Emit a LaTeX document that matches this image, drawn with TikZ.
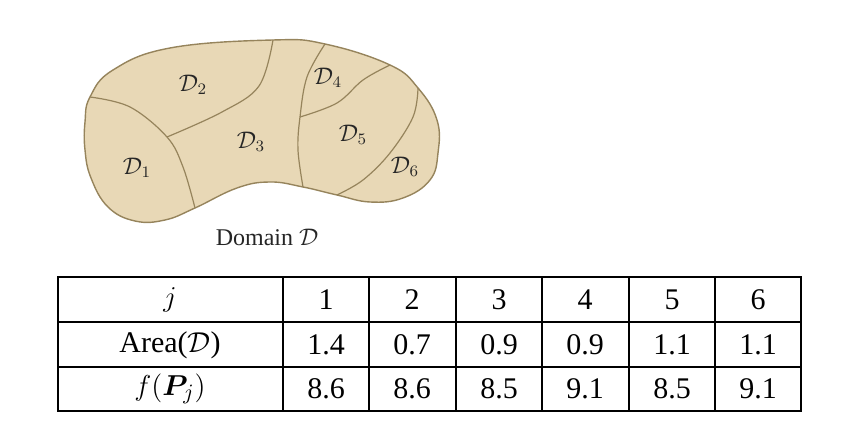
\documentclass[tikz,border=0pt]{standalone}
\usepackage{amsmath,amssymb,bm}
\usepackage{fontspec}
\setmainfont{Liberation Serif}
\usetikzlibrary{positioning}
\definecolor{blobFill}{RGB}{232,216,182}
\definecolor{blobEdge}{RGB}{150,132,92}
\tikzstyle{regionLine} = [draw=blobEdge, line width=0.6pt]
\tikzstyle{regionLabel} = [font=\fontsize{12}{14}\selectfont, text=black!85]
\tikzstyle{cellNode} = [font=\fontsize{15}{17}\selectfont, inner sep=0pt]
\tikzstyle{tableLine} = [draw=black, line width=0.9pt]

\begin{document}
\begin{tikzpicture}[x=0.5pt, y=-0.5pt]
    \useasboundingbox (0,0) rectangle (846,442);

    % domain outline
    \path [regionLine, fill=blobFill, line width=0.7pt] plot[smooth cycle, tension=0.7] coordinates {
        (85,122) (90,97) (113,70) (170,48) (273,40) (325,44) (390,65) (418,88)
        (437,120) (438,153) (430,180) (403,198) (370,202) (337,195) (303,187)
        (270,182) (237,188) (195,208) (165,220) (135,221) (108,207) (91,178) (85,150)};

    % subdivision curves
    \draw [regionLine] plot[smooth, tension=0.6] coordinates {(90,97) (130,107) (167,137) (183,167) (195,208)};
    \draw [regionLine] plot[smooth, tension=0.6] coordinates {(167,137) (222,112) (259,86) (273,40)};
    \draw [regionLine] plot[smooth, tension=0.6] coordinates {(325,44) (307,77) (300,117) (298,150) (303,187)};
    \draw [regionLine] plot[smooth, tension=0.6] coordinates {(300,117) (337,103) (363,80) (390,65)};
    \draw [regionLine] plot[smooth, tension=0.6] coordinates {(418,88) (413,117) (390,153) (363,180) (337,195)};

    % region labels
    \node (d1) [regionLabel] at (137,168) {$\mathcal{D}_1$};
    \node (d2) [regionLabel] at (193,85) {$\mathcal{D}_2$};
    \node (d3) [regionLabel] at (251,142) {$\mathcal{D}_3$};
    \node (d4) [regionLabel] at (328,78) {$\mathcal{D}_4$};
    \node (d5) [regionLabel] at (353,135) {$\mathcal{D}_5$};
    \node (d6) [regionLabel] at (405,167) {$\mathcal{D}_6$};
    \node (domain) [regionLabel] at (267,237) {Domain $\mathcal{D}$};

    % table
    \draw [tableLine] (58,277) rectangle (801,411);
    \draw [tableLine] (58,322) -- (801,322);
    \draw [tableLine] (58,367) -- (801,367);
    \foreach \xcol in {283,369,456,542,629,715}
        \draw [tableLine] (\xcol,277) -- (\xcol,411);

    \node (hJ) [cellNode] at (170,300) {$j$};
    \node (hArea) [cellNode] at (170,345) {Area($\mathcal{D}$)};
    \node (hF) [cellNode] at (170,389) {$f(\bm{P}_j)$};
    \foreach \j/\xc/\area/\fval in {1/326/1.4/8.6, 2/412/0.7/8.6, 3/499/0.9/8.5,
                                    4/585/0.9/9.1, 5/672/1.1/8.5, 6/758/1.1/9.1} {
        \node (j\j) [cellNode] at (\xc,300) {\j};
        \node (a\j) [cellNode] at (\xc,345) {\area};
        \node (f\j) [cellNode] at (\xc,389) {\fval};
    }
\end{tikzpicture}
\end{document}
